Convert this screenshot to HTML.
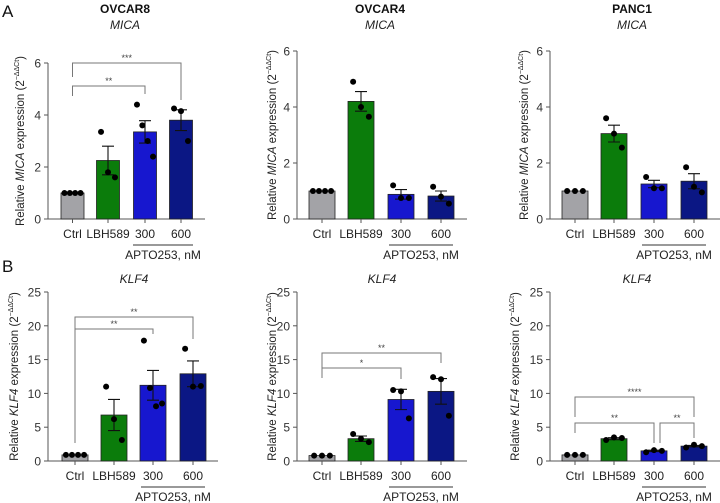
<!DOCTYPE html>
<html><head><meta charset="utf-8">
<style>
body{margin:0;background:#fff;}
svg{display:block;font-family:"Liberation Sans",Arial,sans-serif;}
</style></head>
<body>
<svg id="fig" width="720" height="503" viewBox="0 0 720 503"></svg>
<script>
const categories = ["Ctrl","LBH589","300","600"];
const colors = ["#a3a3a7","#0b7c0b","#1717cf","#0b1784"];
// panel A1 OVCAR8 MICA
const a1Means = [1,2.25,3.35,3.8];
const a1Sem = [0,0.55,0.43,0.4];
const a1Dots = [[1,1,1,1],[3.35,1.8,1.6],[4.4,3.6,3.0,2.4],[4.25,4.15,3.0]];
// panel A2 OVCAR4 MICA
const a2Means = [1,4.2,0.88,0.82];
const a2Sem = [0,0.35,0.17,0.18];
const a2Dots = [[1,1,1,1],[4.9,4.0,3.65],[1.2,0.75,0.75],[1.15,0.8,0.55]];
// panel A3 PANC1 MICA
const a3Means = [1,3.05,1.25,1.35];
const a3Sem = [0,0.3,0.13,0.27];
const a3Dots = [[1,1,1],[3.6,3.05,2.55],[1.5,1.1,1.1],[1.85,1.15,0.95]];
// panel B1 OVCAR8 KLF4
const b1Means = [0.9,6.8,11.2,12.9];
const b1Sem = [0,2.3,2.2,1.9];
const b1Dots = [[0.9,0.9,0.9,0.9],[11,6.2,3.1],[17.8,10.8,8.1,8.5],[16.6,11,11.1]];
// panel B2 OVCAR4 KLF4
const b2Means = [0.8,3.3,9.1,10.3];
const b2Sem = [0,0.4,1.5,1.9];
const b2Dots = [[0.8,0.8,0.8],[4.0,3.3,2.8],[10.5,10.3,6.3],[12.4,12.1,6.7]];
// panel B3 PANC1 KLF4
const b3Means = [0.9,3.3,1.5,2.2];
const b3Sem = [0,0.15,0.1,0.1];
const b3Dots = [[0.9,0.9,0.9],[3.1,3.5,3.4],[1.3,1.6,1.5],[2.0,2.4,2.2]];
const micaTicks = [0,2,4,6];
const klfTicks = [0,5,10,15,20,25];

const NS="http://www.w3.org/2000/svg";
const svg=document.getElementById('fig');
function mk(tag,attrs,parent,text){const e=document.createElementNS(NS,tag);for(const k in attrs)e.setAttribute(k,attrs[k]);if(text!==undefined)e.textContent=text;(parent||svg).appendChild(e);return e;}

function panel(cfg){
  const g=mk('g',{});
  
  
  const ys=v=>cfg.y0-(v/cfg.max)*(cfg.y0-cfg.yTop);
  const xs=i=>cfg.ax+cfg.offs[i];
  // axes
  const ya=mk('line',{x1:cfg.ax,y1:cfg.yTop,x2:cfg.ax,y2:cfg.y0,stroke:'#555','stroke-width':1},g);
  
  const xa=mk('line',{x1:cfg.ax,y1:cfg.y0,x2:cfg.xEnd,y2:cfg.y0,stroke:'#555','stroke-width':1},g);
  
  cfg.ticks.forEach(t=>{
    mk('line',{x1:cfg.ax-4,y1:ys(t),x2:cfg.ax,y2:ys(t),stroke:'#555'},g);
    const tl=mk('text',{x:cfg.ax-7,y:ys(t)+4.5,'text-anchor':'end','font-size':12,fill:'#333'},g,t);
    
  });
  // bars
  cfg.means.forEach((m,i)=>{
    const x=xs(i);
    const b=mk('rect',{x:x-cfg.bw/2,y:ys(m),width:cfg.bw,height:cfg.y0-ys(m),fill:colors[i],stroke:'#222','stroke-width':0.8},g);
    
    mk('line',{x1:x,y1:cfg.y0,x2:x,y2:cfg.y0+4,stroke:'#555'},g);
    if(cfg.sem[i]>0){
      const hi=ys(m+cfg.sem[i]),lo=ys(m-cfg.sem[i]);
      const eb=mk('path',{d:`M${x},${lo}V${hi}M${x-6},${hi}H${x+6}M${x-6},${lo}H${x+6}`,stroke:'#111','stroke-width':1.1,fill:'none'},g);
      
    }
    const d=cfg.dots[i];
    const n=d.length;
    d.forEach((v,j)=>{
      const dx=(j-(n-1)/2)*(cfg.bw/(n+0.3));
      const c=mk('circle',{cx:x+dx,cy:ys(v),r:3,fill:'#000'},g);
      
    });
    const lab=mk('text',{x:x,y:cfg.y0+19,'text-anchor':'middle','font-size':12,fill:'#222'},g,categories[i]);
    
  });
  // APTO253 group
  const l1=xs(2)-12,l2=xs(3)+12;
  mk('line',{x1:l1,y1:cfg.y0+26,x2:l2,y2:cfg.y0+26,stroke:'#333'},g);
  const ap=mk('text',{x:(xs(2)+xs(3))/2,y:cfg.y0+40,'text-anchor':'middle','font-size':12,fill:'#222'},g,'APTO253, nM');
  
  // titles
  if(cfg.title){const t=mk('text',{x:cfg.tx,y:cfg.ty-16,'text-anchor':'middle','font-size':12,'font-weight':'bold',fill:'#111'},g,cfg.title);
    }
  const gt=mk('text',{x:cfg.tx,y:cfg.ty,'text-anchor':'middle','font-size':12,'font-style':'italic',fill:'#222'},g,cfg.gene);
  
  // y label
  const cy=(cfg.y0+cfg.yTop)/2;
  const yl=mk('text',{x:0,y:0,transform:`translate(${cfg.ylx},${cy}) rotate(-90)`,'text-anchor':'middle','font-size':11.5,fill:'#222'},g);
  
  mk('tspan',{},yl,'Relative ');mk('tspan',{'font-style':'italic'},yl,cfg.gene);
  mk('tspan',{},yl,' expression (2');mk('tspan',{'font-size':7,dy:-5},yl,'−ΔΔCt');mk('tspan',{dy:5},yl,')');
  // brackets
  (cfg.brackets||[]).forEach(b=>{
    const xa_=xs(b.i)+(b.li||0),xb=xs(b.j)+(b.rj||0);
    const p=mk('path',{d:`M${xa_},${b.l}V${b.y}H${xb}V${b.r}`,stroke:'#777','stroke-width':1,fill:'none'},g);
    
    const s=mk('text',{x:(xa_+xb)/2,y:b.y-2,'text-anchor':'middle','font-size':9,fill:'#444'},g,b.s);
    
  });
}
const offsA1=[24.5,60,97,133], offs=[25,64,104,144], offsB1=[27,66,105,145];
panel({name:'panel-a-ovcar8',ax:48,y0:219,yTop:63,max:6,ticks:micaTicks,means:a1Means,sem:a1Sem,dots:a1Dots,offs:offsA1,bw:23,xEnd:205,title:'OVCAR8',gene:'MICA',tx:125,ty:29,ylx:24,
  brackets:[{i:0,j:2,y:86,l:96,r:94,s:'**'},{i:0,j:3,y:63,l:77,r:100,s:'***'}]});
panel({name:'panel-a-ovcar4',ax:297,y0:219,yTop:51,max:6,ticks:micaTicks,means:a2Means,sem:a2Sem,dots:a2Dots,offs:offs,bw:26,xEnd:467,title:'OVCAR4',gene:'MICA',tx:380,ty:29,ylx:276});
panel({name:'panel-a-panc1',ax:550,y0:219,yTop:51,max:6,ticks:micaTicks,means:a3Means,sem:a3Sem,dots:a3Dots,offs:offs,bw:26,xEnd:720,title:'PANC1',gene:'MICA',tx:632,ty:29,ylx:528});
panel({name:'panel-b-ovcar8',ax:48,y0:461,yTop:292,max:25,ticks:klfTicks,means:b1Means,sem:b1Sem,dots:b1Dots,offs:offsB1,bw:26,xEnd:218,gene:'KLF4',tx:134,ty:283,ylx:18,
  brackets:[{i:0,j:2,y:329,l:443,r:334,s:'**'},{i:0,j:3,y:317,l:329,r:339,s:'**'}]});
panel({name:'panel-b-ovcar4',ax:297,y0:461,yTop:292,max:25,ticks:klfTicks,means:b2Means,sem:b2Sem,dots:b2Dots,offs:offs,bw:26,xEnd:467,gene:'KLF4',tx:382,ty:283,ylx:276,
  brackets:[{i:0,j:2,y:368,l:378,r:379,s:'*'},{i:0,j:3,y:353,l:368,r:363,s:'**'}]});
panel({name:'panel-b-panc1',ax:550,y0:461,yTop:292,max:25,ticks:klfTicks,means:b3Means,sem:b3Sem,dots:b3Dots,offs:offs,bw:26,xEnd:720,gene:'KLF4',tx:637,ty:283,ylx:519,
  brackets:[{i:0,j:3,y:397,l:417,r:417,s:'****'},{i:0,j:2,y:423,l:433,r:443,s:'**'},{i:2,j:3,y:423,l:443,r:438,li:6,s:'**'}]});
const la=mk('text',{x:2,y:17,'font-size':17,fill:'#111'},svg,'A');

const lb=mk('text',{x:2,y:272,'font-size':17,fill:'#111'},svg,'B');

</script>
</body></html>
